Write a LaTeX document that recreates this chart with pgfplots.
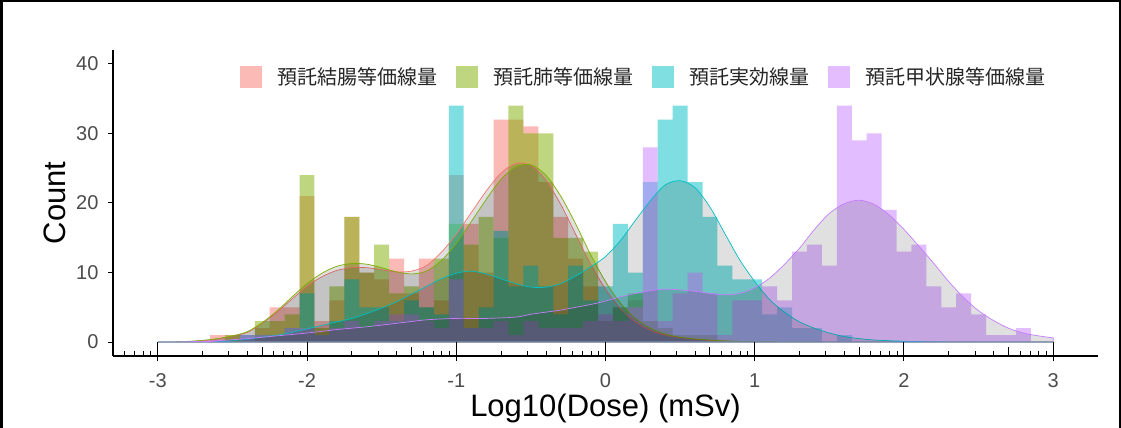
\documentclass[border=0pt]{standalone}
\usepackage{fontspec}
\setmainfont{Liberation Sans}
\newfontfamily\cjk{Noto Sans CJK JP}
\usepackage{pgfplots}
\pgfplotsset{compat=1.18}
\usepackage{pgfplotstable}

\definecolor{cP}{HTML}{F8766D}
\definecolor{cG}{HTML}{7CAE00}
\definecolor{cC}{HTML}{00BFC4}
\definecolor{cV}{HTML}{C77CFF}
\definecolor{lP}{HTML}{FBBAB6}
\definecolor{lG}{HTML}{BDD67F}
\definecolor{lC}{HTML}{7FDFE1}
\definecolor{lV}{HTML}{E3BDFF}

% histogram counts, bins of width 0.1 centred on x
\pgfplotstableread{
x y
-2.6 1
-2.5 1
-2.3 2
-2.2 5
-2.1 5
-2.0 21
-1.9 3
-1.8 6
-1.7 18
-1.6 10
-1.5 9
-1.4 12
-1.3 7
-1.2 12
-1.1 6
-1.0 24
-0.9 17
-0.8 10
-0.7 32
-0.6 32
-0.5 31
-0.4 23
-0.3 18
-0.2 12
-0.1 8
0.0 3
0.1 5
0.2 6
0.3 3
0.4 2
0.5 1
0.6 1
0.7 1
}\hP
\pgfplotstableread{
x y
-2.5 1
-2.3 3
-2.2 3
-2.1 4
-2.0 24
-1.9 2
-1.8 8
-1.7 18
-1.6 10
-1.5 14
-1.4 7
-1.3 8
-1.2 5
-1.1 12
-1.0 17
-0.9 14
-0.8 18
-0.7 15
-0.6 34
-0.5 30
-0.4 30
-0.3 15
-0.2 15
-0.1 13
0.0 3
0.1 5
0.2 7
0.3 3
0.4 2
0.5 1
0.6 1
0.7 1
}\hG
\pgfplotstableread{
x y
-2.4 1
-2.3 1
-2.2 1
-2.1 2
-2.0 7
-1.9 1
-1.8 3
-1.7 9
-1.6 5
-1.5 5
-1.4 3
-1.3 6
-1.2 5
-1.1 4
-1.0 34
-0.9 2
-0.8 5
-0.7 16
-0.6 8
-0.5 11
-0.4 8
-0.3 4
-0.2 11
-0.1 6
0.0 8
0.1 17
0.2 10
0.3 23
0.4 32
0.5 34
0.6 23
0.7 18
0.8 11
0.9 9
1.0 9
1.1 4
1.2 5
1.3 2
1.4 2
1.6 1
}\hC
\pgfplotstableread{
x y
-2.4 1
-2.3 1
-2.2 1
-2.1 2
-2.0 2
-1.9 1
-1.8 2
-1.7 3
-1.6 2
-1.5 3
-1.4 4
-1.3 4
-1.2 3
-1.1 2
-1.0 9
-0.9 2
-0.8 2
-0.7 3
-0.6 1
-0.5 3
-0.4 2
-0.3 2
-0.2 2
-0.1 3
0.0 4
0.1 3
0.2 5
0.3 28
0.4 3
0.5 7
0.6 10
0.7 7
0.8 1
0.9 6
1.0 6
1.1 8
1.2 6
1.3 13
1.4 14
1.5 11
1.6 34
1.7 29
1.8 30
1.9 19
2.0 13
2.1 14
2.2 8
2.3 5
2.4 7
2.5 4
2.6 1
2.7 1
2.8 2
}\hV

% density curves scaled to counts
\pgfplotstableread{
x y
-3.0 0
-2.9 0.02
-2.8 0.08
-2.7 0.2
-2.6 0.45
-2.5 0.85
-2.4 1.4
-2.3 2.7
-2.2 4.3
-2.1 6.2
-2.0 8.0
-1.9 9.4
-1.8 10.3
-1.7 10.7
-1.6 10.7
-1.5 10.4
-1.4 10.1
-1.3 10.2
-1.2 11.0
-1.1 12.9
-1.0 15.5
-0.9 18.6
-0.8 21.7
-0.7 24.3
-0.6 25.7
-0.5 25.4
-0.4 23.3
-0.3 19.8
-0.2 15.5
-0.1 11.2
0.0 7.6
0.1 4.8
0.2 2.9
0.3 1.7
0.4 1.0
0.5 0.65
0.6 0.4
0.7 0.25
0.8 0.15
0.9 0.1
1.0 0.06
1.2 0.03
1.5 0.01
1.8 0
2.4 0
3.0 0
}\dP
\pgfplotstableread{
x y
-3.0 0
-2.9 0.02
-2.8 0.1
-2.7 0.25
-2.6 0.5
-2.5 0.9
-2.4 1.5
-2.3 2.8
-2.2 4.5
-2.1 6.5
-2.0 8.4
-1.9 9.9
-1.8 10.9
-1.7 11.3
-1.6 11.2
-1.5 10.7
-1.4 10.1
-1.3 9.8
-1.2 10.2
-1.1 11.7
-1.0 14.2
-0.9 17.3
-0.8 20.5
-0.7 23.4
-0.6 25.2
-0.5 25.5
-0.4 24.0
-0.3 21.0
-0.2 17.0
-0.1 12.6
0.0 8.7
0.1 5.6
0.2 3.4
0.3 2.0
0.4 1.15
0.5 0.7
0.6 0.45
0.7 0.28
0.8 0.17
0.9 0.1
1.0 0.06
1.2 0.03
1.5 0.01
1.8 0
2.4 0
3.0 0
}\dG
\pgfplotstableread{
x y
-3.0 0
-2.8 0.03
-2.6 0.1
-2.5 0.2
-2.4 0.4
-2.3 0.7
-2.2 1.0
-2.1 1.4
-2.0 1.9
-1.9 2.4
-1.8 2.9
-1.7 3.4
-1.6 4.1
-1.5 4.9
-1.4 5.8
-1.3 6.9
-1.2 8.0
-1.1 9.1
-1.0 9.9
-0.9 10.2
-0.8 9.8
-0.7 9.1
-0.6 8.4
-0.5 7.9
-0.4 7.9
-0.3 8.4
-0.2 9.5
-0.1 10.8
0.0 12.3
0.1 14.6
0.2 17.5
0.3 20.3
0.4 22.6
0.5 23.2
0.6 22.2
0.7 19.4
0.8 15.6
0.9 11.8
1.0 8.7
1.1 6.1
1.2 4.3
1.3 2.9
1.4 2.0
1.5 1.3
1.6 0.8
1.7 0.5
1.8 0.3
2.0 0.12
2.2 0.05
2.5 0.01
3.0 0
}\dC
\pgfplotstableread{
x y
-3.0 0
-2.8 0.05
-2.6 0.2
-2.4 0.5
-2.2 0.9
-2.0 1.3
-1.8 1.8
-1.6 2.2
-1.4 2.7
-1.2 3.2
-1.0 3.4
-0.8 3.4
-0.6 3.6
-0.5 4.0
-0.4 4.3
-0.3 4.6
-0.2 5.0
-0.1 5.4
0.0 5.9
0.1 6.5
0.2 7.0
0.3 7.4
0.4 7.6
0.5 7.5
0.6 7.3
0.7 7.0
0.8 6.8
0.9 7.0
1.0 7.8
1.1 9.2
1.2 11.2
1.3 13.5
1.4 16.2
1.5 18.5
1.6 19.9
1.7 20.4
1.8 19.8
1.9 18.3
2.0 16.2
2.1 13.8
2.2 11.3
2.3 8.7
2.4 6.4
2.5 4.5
2.6 3.1
2.7 2.0
2.8 1.3
2.9 0.9
3.0 0.6
}\dV

\begin{document}
\begin{tikzpicture}
\useasboundingbox (0,0) rectangle (1121pt,428pt);
\fill[white] (0,0) rectangle (1121pt,428pt);
\draw[line width=2.5pt] (1.25pt,0pt) -- (1.25pt,426.75pt) -- (1119.75pt,426.75pt) -- (1119.75pt,0pt);

\begin{axis}[
  at={(113pt,72pt)}, anchor=south west,
  scale only axis, width=985pt, height=306pt,
  xmin=-3.3, xmax=3.3, ymin=-2, ymax=42,
  axis x line*=bottom, axis y line*=left,
  axis line style={line width=1.4pt, -},
  xtick={-3,-2,-1,0,1,2,3},
  xticklabels={-3,-2,-1,0,1,2,3},
  ytick={0,10,20,30,40},
  yticklabels={0,10,20,30,40},
  tick align=outside, major tick length=5pt,
  tick style={line width=1pt, black},
  ticklabel style={font=\fontsize{20}{24}\selectfont, text=black!70},
  xticklabel shift=9pt,
  yticklabel shift=6pt,
  xlabel={Log10(Dose) (mSv)},
  ylabel={Count},
  label style={font=\fontsize{31}{37}\selectfont},
  xlabel style={at={(axis description cs:0.5,-0.170)}, anchor=center},
  ylabel style={at={(axis description cs:-0.0589,0.5)}, anchor=center},
  legend columns=4,
  legend image code/.code={\fill[#1] (0pt,-11pt) rectangle (22pt,11pt); \path (38pt,0pt);},
  legend style={at={(axis description cs:0.1289,0.9118)}, anchor=west,
    draw=none, fill=none, inner sep=0pt, outer sep=0pt,
    font=\cjk\fontsize{20}{24}\selectfont, text=black!85,
    nodes={inner sep=0pt},
    /tikz/every even column/.append style={column sep=18pt}},
]
% histograms
\addplot[forget plot, ybar, bar width=0.1, bar shift=0pt, draw=none, fill=cP, fill opacity=0.5] table {\hP};
\addplot[forget plot, ybar, bar width=0.1, bar shift=0pt, draw=none, fill=cG, fill opacity=0.5] table {\hG};
\addplot[forget plot, ybar, bar width=0.1, bar shift=0pt, draw=none, fill=cC, fill opacity=0.5] table {\hC};
\addplot[forget plot, ybar, bar width=0.1, bar shift=0pt, draw=none, fill=cV, fill opacity=0.5] table {\hV};
% densities
\addplot[forget plot, smooth, draw=cP, line width=0.7pt, fill=black, fill opacity=0.12] table {\dP} \closedcycle;
\addplot[forget plot, smooth, draw=cG, line width=0.7pt, fill=black, fill opacity=0.12] table {\dG} \closedcycle;
\addplot[forget plot, smooth, draw=cC, line width=0.7pt, fill=black, fill opacity=0.12] table {\dC} \closedcycle;
\addplot[forget plot, smooth, draw=cV, line width=0.7pt, fill=black, fill opacity=0.12] table {\dV} \closedcycle;
% legend
\addlegendimage{fill=lP, draw=none}
\addlegendentry{預託結腸等価線量}
\addlegendimage{fill=lG, draw=none}
\addlegendentry{預託肺等価線量}
\addlegendimage{fill=lC, draw=none}
\addlegendentry{預託実効線量}
\addlegendimage{fill=lV, draw=none}
\addlegendentry{預託甲状腺等価線量}
\end{axis}

% log tick annotation (inside ticks)
\begin{axis}[
  at={(113pt,72pt)}, anchor=south west,
  scale only axis, width=985pt, height=306pt,
  xmin=-3.3, xmax=3.3, ymin=-2, ymax=42,
  hide y axis, axis x line*=bottom,
  axis line style={draw=none},
  xtick={-3,-2,-1,0,1,2,3}, xticklabels={},
  minor xtick={-3.22185,-3.15490,-3.09691,-3.04576,
    -2.69897,-2.52288,-2.39794,-2.22185,-2.15490,-2.09691,-2.04576,
    -1.69897,-1.52288,-1.39794,-1.22185,-1.15490,-1.09691,-1.04576,
    -0.69897,-0.52288,-0.39794,-0.22185,-0.15490,-0.09691,-0.04576,
    0.30103,0.47712,0.60206,0.77815,0.84510,0.90309,0.95424,
    1.30103,1.47712,1.60206,1.77815,1.84510,1.90309,1.95424,
    2.30103,2.47712,2.60206,2.77815,2.84510,2.90309,2.95424},
  extra x ticks={-2.30103,-1.30103,-0.30103,0.69897,1.69897,2.69897},
  extra x tick labels={},
  extra x tick style={major tick length=9pt},
  tick align=inside, major tick length=14pt, minor tick length=5pt,
  tick style={line width=1pt, black},
]
\end{axis}
\end{tikzpicture}
\end{document}
